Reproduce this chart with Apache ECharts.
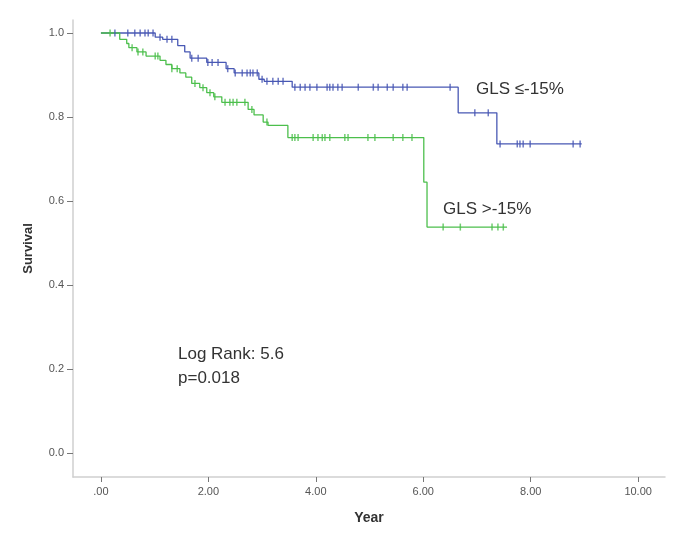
<!DOCTYPE html>
<html>
<head>
<meta charset="utf-8">
<script src="https://cdn.jsdelivr.net/npm/echarts@6/dist/echarts.min.js"></script>
<style>
  html, body { margin: 0; padding: 0; background: #fff; }
  #chart { width: 679px; height: 533px; }
</style>
</head>
<body>
<div id="chart"></div>
<script>
// tick labels
const xTicks = [0, 2, 4, 6, 8, 10];
const yTicks = [0, 0.2, 0.4, 0.6, 0.8, 1.0];

// GLS <= -15% : step times and survival after each step
const blueTimes = [0, 1.01, 1.15, 1.43, 1.56, 1.66, 1.97, 2.33, 2.48, 2.94, 3.04, 3.56, 6.65, 7.37];
const blueSurv = [1.0, 0.99, 0.985, 0.97, 0.955, 0.94, 0.93, 0.915, 0.905, 0.89, 0.885, 0.871, 0.81, 0.736];
const blueEnd = 8.95;
const blueCensor = [0.26, 0.50, 0.63, 0.73, 0.82, 0.88, 0.97, 1.10, 1.23, 1.32, 1.69, 1.81, 1.99, 2.07, 2.18,
  2.36, 2.50, 2.63, 2.72, 2.78, 2.83, 2.91, 3.00, 3.09, 3.20, 3.30, 3.39, 3.61, 3.71, 3.80, 3.89, 4.02,
  4.21, 4.26, 4.32, 4.41, 4.49, 4.79, 5.07, 5.16, 5.33, 5.44, 5.62, 5.70, 6.50, 6.96, 7.21, 7.43, 7.75,
  7.80, 7.86, 7.99, 8.79, 8.92];

// GLS > -15%
const greenTimes = [0, 0.35, 0.48, 0.52, 0.67, 0.84, 1.10, 1.21, 1.32, 1.47, 1.58, 1.69, 1.84, 1.97, 2.10,
  2.25, 2.74, 2.85, 3.02, 3.11, 3.48, 6.01, 6.07];
const greenSurv = [1.0, 0.985, 0.975, 0.965, 0.955, 0.945, 0.935, 0.925, 0.915, 0.905, 0.895, 0.88, 0.87,
  0.858, 0.848, 0.835, 0.818, 0.805, 0.788, 0.78, 0.751, 0.645, 0.538];
const greenEnd = 7.56;
const greenCensor = [0.17, 0.58, 0.69, 0.78, 1.01, 1.06, 1.32, 1.42, 1.75, 1.90, 2.03, 2.12, 2.31, 2.40,
  2.46, 2.53, 2.68, 2.81, 3.09, 3.56, 3.61, 3.67, 3.95, 4.04, 4.12, 4.17, 4.26, 4.54, 4.60, 4.97, 5.10,
  5.44, 5.62, 5.79, 6.37, 6.69, 7.28, 7.39, 7.49];

const blueColor = "#4858b4";
const greenColor = "#4cbf4c";

function stepData(times, surv, end) {
  const pts = times.map((t, i) => [t, surv[i]]);
  pts.push([end, surv[surv.length - 1]]);
  return pts;
}

// censor mark sits on the curve level at its time
function censorData(times, surv, marks) {
  return marks.map((t) => {
    let s = surv[0];
    for (let i = 0; i < times.length; i++) {
      if (times[i] <= t) s = surv[i];
    }
    return [t, s];
  });
}

const chart = echarts.init(document.getElementById("chart"));

const labelFont = { color: "#555", fontSize: 11, fontFamily: "Liberation Sans" };
const noteFont = { fill: "#333", fontSize: 17, fontFamily: "Liberation Sans" };

const option = {
  animation: false,
  grid: { left: 73, top: 20, right: 14, bottom: 56 },
  xAxis: {
    type: "value",
    min: -0.52,
    max: 10.5,
    name: "Year",
    nameLocation: "middle",
    nameGap: 34,
    nameTextStyle: { fontWeight: "bold", fontSize: 14, color: "#333", fontFamily: "Liberation Sans" },
    splitLine: { show: false },
    axisLine: { onZero: false, lineStyle: { color: "#cfcfcf", width: 1.5 } },
    axisTick: { customValues: xTicks, length: 5, lineStyle: { color: "#777" } },
    axisLabel: {
      customValues: xTicks,
      margin: 9,
      ...labelFont,
      formatter: (v) => (v === 0 ? ".00" : v.toFixed(2)),
    },
  },
  yAxis: {
    type: "value",
    min: -0.057,
    max: 1.031,
    name: "Survival",
    nameLocation: "middle",
    nameGap: 38,
    nameTextStyle: { fontWeight: "bold", fontSize: 13, color: "#333", fontFamily: "Liberation Sans" },
    splitLine: { show: false },
    axisLine: { show: true, onZero: false, lineStyle: { color: "#cfcfcf", width: 1.5 } },
    axisTick: { show: true, customValues: yTicks, length: 6, lineStyle: { color: "#777" } },
    axisLabel: {
      customValues: yTicks,
      margin: 9,
      ...labelFont,
      formatter: (v) => v.toFixed(1),
    },
  },
  series: [
    {
      type: "line",
      step: "end",
      showSymbol: false,
      data: stepData(blueTimes, blueSurv, blueEnd),
      lineStyle: { color: blueColor, width: 1.3 },
      z: 2,
    },
    {
      type: "line",
      step: "end",
      showSymbol: false,
      data: stepData(greenTimes, greenSurv, greenEnd),
      lineStyle: { color: greenColor, width: 1.3 },
      z: 2,
    },
    {
      type: "scatter",
      symbol: "rect",
      symbolSize: [1.5, 7],
      data: censorData(blueTimes, blueSurv, blueCensor),
      itemStyle: { color: blueColor },
      z: 3,
    },
    {
      type: "scatter",
      symbol: "rect",
      symbolSize: [1.5, 7],
      data: censorData(greenTimes, greenSurv, greenCensor),
      itemStyle: { color: greenColor },
      z: 3,
    },
  ],
  graphic: [
    { type: "text", left: 476, top: 81, style: { text: "GLS \u2264-15%", ...noteFont } },
    { type: "text", left: 443, top: 201, style: { text: "GLS >-15%", ...noteFont } },
    { type: "text", left: 178, top: 346, style: { text: "Log Rank: 5.6", ...noteFont } },
    { type: "text", left: 178, top: 370, style: { text: "p=0.018", ...noteFont } },
  ],
};

chart.setOption(option);
</script>
</body>
</html>
